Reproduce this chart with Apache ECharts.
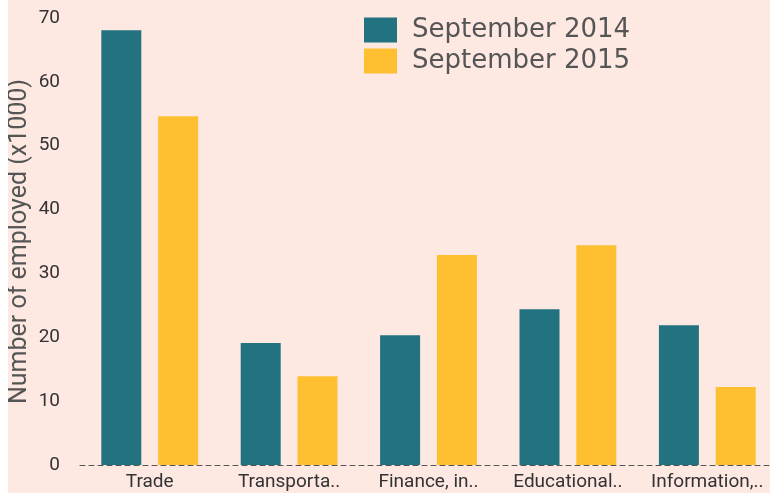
<!DOCTYPE html>
<html>
<head>
<meta charset="utf-8">
<script src="https://cdn.jsdelivr.net/npm/echarts@6/dist/echarts.min.js"></script>
<style>
  html, body { margin: 0; padding: 0; background: #ffffff; }
  .chart {
    position: absolute;
    left: 8px;
    top: 0;
    width: 762px;
    height: 493px;
    background: #fde8e2;
  }
</style>
</head>
<body>
<div class="chart" id="main"></div>
<script>
// 行业类别（原图中已截断）
const categories = ["Trade", "Transporta..", "Finance, in..", "Educational..", "Information,.."];
const sep2014 = [68.1, 19.1, 20.3, 24.4, 21.9];
const sep2015 = [54.6, 13.9, 32.9, 34.4, 12.2];
const seriesNames = ["September 2014", "September 2015"];

const chart = echarts.init(document.getElementById("main"));
const option = {
  backgroundColor: "#fde8e2",
  animation: false,
  color: ["#22727f", "#fec030"],
  legend: {
    data: seriesNames,
    orient: "vertical",
    left: 351,
    top: 12,
    icon: "rect",
    itemWidth: 33,
    itemHeight: 25,
    itemGap: 5,
    textStyle: {
      fontFamily: "DejaVu Sans",
      fontSize: 26,
      lineHeight: 25,
      color: "#555555",
      padding: [0, 0, 0, 10],
    },
  },
  grid: {
    left: 72,
    right: -7,
    top: 18,
    bottom: 28,
    outerBoundsMode: "none",
  },
  xAxis: {
    type: "category",
    data: categories,
    axisTick: { show: false },
    axisLine: {
      show: true,
      lineStyle: { color: "#555555", type: [5, 4], width: 1 },
    },
    axisLabel: {
      interval: 0,
      margin: 8,
      fontFamily: "Roboto",
      fontSize: 19,
      color: "#333333",
    },
  },
  yAxis: {
    type: "value",
    min: 0,
    max: 70,
    interval: 10,
    name: "Number of employed (x1000)",
    nameLocation: "middle",
    nameGap: 48,
    nameMoveOverlap: false,
    nameTextStyle: {
      fontFamily: "Roboto",
      fontSize: 25,
      color: "#555555",
    },
    splitLine: { show: false },
    axisLine: { show: false },
    axisTick: { show: false },
    axisLabel: {
      margin: 20,
      fontFamily: "Roboto",
      fontSize: 19,
      color: "#333333",
    },
  },
  series: [
    {
      name: seriesNames[0],
      type: "bar",
      data: sep2014,
      barWidth: 40,
      barGap: "42%",
    },
    {
      name: seriesNames[1],
      type: "bar",
      data: sep2015,
      barWidth: 40,
      barGap: "42%",
    },
  ],
};
chart.setOption(option);
</script>
</body>
</html>
